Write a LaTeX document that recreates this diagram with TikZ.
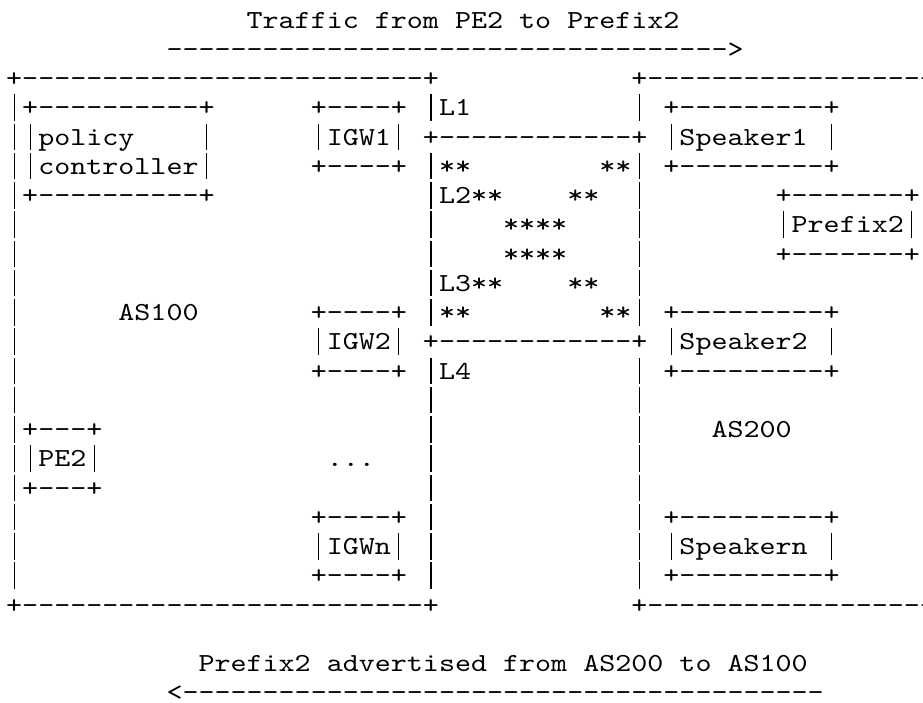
\documentclass[tikz,border=0pt]{standalone}
\usepackage{fontspec}
\newfontfamily\asciifont{lmmono10-regular.otf}[FakeStretch=1.1744]
\newcommand\dashes[1]{\foreach \k in {1,...,#1}{-}}
\newcommand\vb{\hbox to 16.03pt{\hss\rule[-5pt]{1.1pt}{26.5pt}\hss}}
\tikzset{asc/.style={font=\asciifont\fontsize{26pt}{26pt}\selectfont, inner sep=0pt, anchor=base west}}
\begin{document}
\begin{tikzpicture}[x=16.03pt, y=-29.25pt]
	\useasboundingbox (-6pt,-1.25pt) rectangle (917pt,-703.25pt);
	\clip (-6pt,-1.25pt) rectangle (917pt,-703.25pt);
	\node[asc] (traffic) at (15,1) {Traffic from PE2 to Prefix2};
	\node[asc] (fwd) at (10,2) {\dashes{35}>};
	\node[asc] (astop) at (0,3) {+\dashes{25}+};
	\node[asc] (bstop) at (39,3) {+\dashes{30}};
	\node[asc] (a4) at (0,4) {\vb};
	\node[asc] (pctop) at (1,4) {+\dashes{10}+};
	\node[asc] (igwatop) at (19,4) {+\dashes{4}+};
	\node[asc] (linka) at (26,4) {\vb L1};
	\node[asc] (b4) at (39,4) {\vb};
	\node[asc] (spatop) at (41,4) {+\dashes{9}+};
	\node[asc] (policy) at (0,5) {\vb\vb policy};
	\node[asc] (pcr5) at (12,5) {\vb};
	\node[asc] (igwa) at (19,5) {\vb IGW1\vb};
	\node[asc] (linkab) at (26,5) {+\dashes{12}+};
	\node[asc] (spa) at (41,5) {\vb Speaker1};
	\node[asc] (spar) at (51,5) {\vb};
	\node[asc] (ctrl) at (0,6) {\vb\vb controller\vb};
	\node[asc] (igwabot) at (19,6) {+\dashes{4}+};
	\node[asc] (stara) at (26,6) {\vb**};
	\node[asc] (starb) at (37,6) {**\vb};
	\node[asc] (spabot) at (41,6) {+\dashes{9}+};
	\node[asc] (pcbot) at (0,7) {\vb+\dashes{10}+};
	\node[asc] (linkb) at (26,7) {\vb L2**};
	\node[asc] (starc) at (35,7) {**};
	\node[asc] (b7) at (39,7) {\vb};
	\node[asc] (pfxtop) at (48,7) {+\dashes{7}+};
	\node[asc] (a8) at (0,8) {\vb};
	\node[asc] (m8) at (26,8) {\vb};
	\node[asc] (stard) at (31,8) {****};
	\node[asc] (b8) at (39,8) {\vb};
	\node[asc] (pfx) at (48,8) {\vb Prefix2\vb};
	\node[asc] (a9) at (0,9) {\vb};
	\node[asc] (m9) at (26,9) {\vb};
	\node[asc] (stare) at (31,9) {****};
	\node[asc] (b9) at (39,9) {\vb};
	\node[asc] (pfxbot) at (48,9) {+\dashes{7}+};
	\node[asc] (a10) at (0,10) {\vb};
	\node[asc] (linkc) at (26,10) {\vb L3**};
	\node[asc] (starf) at (35,10) {**};
	\node[asc] (b10) at (39,10) {\vb};
	\node[asc] (a11) at (0,11) {\vb};
	\node[asc] (asa) at (7,11) {AS100};
	\node[asc] (igwbtop) at (19,11) {+\dashes{4}+};
	\node[asc] (starg) at (26,11) {\vb**};
	\node[asc] (starh) at (37,11) {**\vb};
	\node[asc] (spbtop) at (41,11) {+\dashes{9}+};
	\node[asc] (a12) at (0,12) {\vb};
	\node[asc] (igwb) at (19,12) {\vb IGW2\vb};
	\node[asc] (linkcd) at (26,12) {+\dashes{12}+};
	\node[asc] (spb) at (41,12) {\vb Speaker2};
	\node[asc] (spbr) at (51,12) {\vb};
	\node[asc] (a13) at (0,13) {\vb};
	\node[asc] (igwbbot) at (19,13) {+\dashes{4}+};
	\node[asc] (linkd) at (26,13) {\vb L4};
	\node[asc] (b13) at (39,13) {\vb};
	\node[asc] (spbbot) at (41,13) {+\dashes{9}+};
	\node[asc] (a14) at (0,14) {\vb};
	\node[asc] (m14) at (26,14) {\vb};
	\node[asc] (b14) at (39,14) {\vb};
	\node[asc] (petop) at (0,15) {\vb+\dashes{3}+};
	\node[asc] (m15) at (26,15) {\vb};
	\node[asc] (b15) at (39,15) {\vb};
	\node[asc] (asb) at (44,15) {AS200};
	\node[asc] (pe) at (0,16) {\vb\vb PE2\vb};
	\node[asc] (dots) at (20,16) {...};
	\node[asc] (m16) at (26,16) {\vb};
	\node[asc] (b16) at (39,16) {\vb};
	\node[asc] (pebot) at (0,17) {\vb+\dashes{3}+};
	\node[asc] (m17) at (26,17) {\vb};
	\node[asc] (b17) at (39,17) {\vb};
	\node[asc] (a18) at (0,18) {\vb};
	\node[asc] (igwntop) at (19,18) {+\dashes{4}+};
	\node[asc] (m18) at (26,18) {\vb};
	\node[asc] (b18) at (39,18) {\vb};
	\node[asc] (spntop) at (41,18) {+\dashes{9}+};
	\node[asc] (a19) at (0,19) {\vb};
	\node[asc] (igwn) at (19,19) {\vb IGWn\vb};
	\node[asc] (m19) at (26,19) {\vb};
	\node[asc] (b19) at (39,19) {\vb};
	\node[asc] (spn) at (41,19) {\vb Speakern};
	\node[asc] (spnr) at (51,19) {\vb};
	\node[asc] (a20) at (0,20) {\vb};
	\node[asc] (igwnbot) at (19,20) {+\dashes{4}+};
	\node[asc] (m20) at (26,20) {\vb};
	\node[asc] (b20) at (39,20) {\vb};
	\node[asc] (spnbot) at (41,20) {+\dashes{9}+};
	\node[asc] (asbot) at (0,21) {+\dashes{25}+};
	\node[asc] (bsbot) at (39,21) {+\dashes{30}};
	\node[asc] (advert) at (12,23) {Prefix2 advertised from AS200 to AS100};
	\node[asc] (back) at (10,24) {<\dashes{40}};
\end{tikzpicture}
\end{document}
